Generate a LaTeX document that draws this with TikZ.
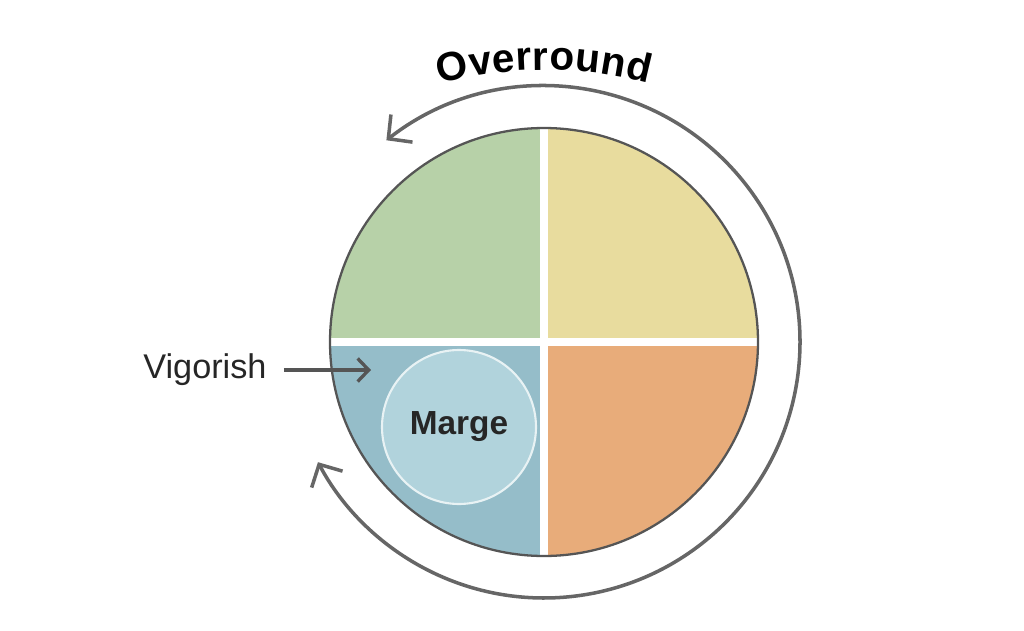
\documentclass[tikz,border=0pt]{standalone}
\usepackage{fontspec}
\setmainfont{Liberation Sans}
\usetikzlibrary{arrows.meta,decorations.text}
\definecolor{qgreen}{HTML}{B7D1A8}
\definecolor{qyellow}{HTML}{E8DC9E}
\definecolor{qorange}{HTML}{E8AC7A}
\definecolor{qblue}{HTML}{95BDC9}
\definecolor{mblue}{HTML}{B1D3DC}
\definecolor{lgray}{HTML}{666666}
\definecolor{dgray}{HTML}{555555}
\begin{document}
\begin{tikzpicture}
	\useasboundingbox (0,0) rectangle (20.48,12.6);
	\coordinate (c) at (10.88,5.76);
	% quadrants
	\fill[qgreen] (c) -- ++(90:4.28) arc (90:180:4.28) -- cycle;
	\fill[qyellow] (c) -- ++(0:4.28) arc (0:90:4.28) -- cycle;
	\fill[qblue] (c) -- ++(180:4.28) arc (180:270:4.28) -- cycle;
	\fill[qorange] (c) -- ++(270:4.28) arc (270:360:4.28) -- cycle;
	\draw[white, line width=4pt] ([xshift=-4.28cm]c) -- ([xshift=4.28cm]c);
	\draw[white, line width=4pt] ([yshift=-4.28cm]c) -- ([yshift=4.28cm]c);
	\draw[dgray, line width=1.3pt] (c) circle (4.28cm);
	% margin
	\node[circle, minimum size=3.08cm, fill=mblue, draw=white!70!mblue, line width=1.2pt,
		font=\bfseries\fontsize{19}{23}\selectfont, text=black!85] (marge) at (9.18,4.06) {Marge};
	% vigorish
	\node[anchor=base west, inner sep=0pt, font=\fontsize{19.5}{23}\selectfont, text=black!85] (vig) at (2.86,5.04) {Vigorish};
	\coordinate (vigtip) at (7.42,5.2);
	\draw[dgray, line width=1.9pt, -{Straight Barb[length=2.2mm, width=4.6mm]}] ([xshift=0.34cm]vig.east |- vigtip) -- (vigtip);
	% overround
	\draw[lgray, line width=2pt, {Straight Barb[length=3.4mm, width=7mm]}-{Straight Barb[length=3.4mm, width=7mm]}]
		(c) ++(128:5.12) arc (128:-152:5.12);
	\path[decorate, decoration={text along path, text align=fit to path,
		text={|\bfseries\fontsize{23}{27}\selectfont|Overround}}]
		(10.88,3.16) ++(105:8.04) arc (105:75:8.04);
\end{tikzpicture}
\end{document}
